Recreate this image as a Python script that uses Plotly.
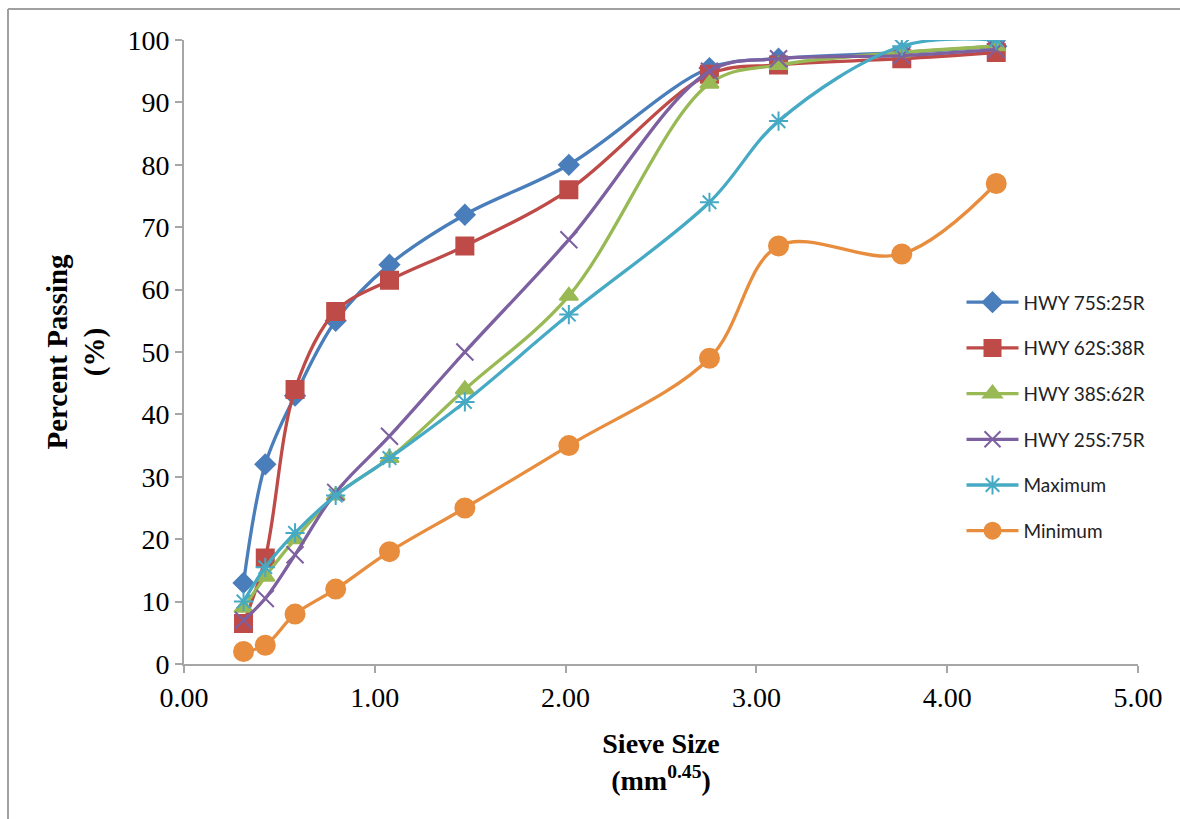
import plotly.graph_objects as go

sieve_x = [0.312, 0.426, 0.582, 0.795, 1.077, 1.472, 2.017, 2.754, 3.116, 3.762, 4.257]

series_names = ["HWY 75S:25R", "HWY 62S:38R", "HWY 38S:62R", "HWY 25S:75R", "Maximum", "Minimum"]
hwy_75s_25r = [13, 32, 43, 55, 64, 72, 80, 95.5, 97, 98, 99]
hwy_62s_38r = [6.5, 17, 44, 56.5, 61.5, 67, 76, 94.5, 96, 97, 98]
hwy_38s_62r = [9, 14, 20, 27, 33, 44, 59, 93, 96, 98, 99]
hwy_25s_75r = [7, 10.5, 17.5, 27.5, 36.5, 50, 68, 95, 97, 97.5, 98.5]
maximum = [10, 15.5, 21, 27, 33, 42, 56, 74, 87, 99, 100]
minimum = [2, 3, 8, 12, 18, 25, 35, 49, 67, 65.7, 77]

x_ticks = [0, 1, 2, 3, 4, 5]
x_tick_labels = ["0.00", "1.00", "2.00", "3.00", "4.00", "5.00"]
y_ticks = [0, 10, 20, 30, 40, 50, 60, 70, 80, 90, 100]

colors = ["#4A7EBB", "#BE4B48", "#98B954", "#7D60A0", "#46AAC5", "#E88D3E"]
markers = [
    dict(symbol="diamond", size=15),
    dict(symbol="square", size=17),
    dict(symbol="triangle-up", size=16),
    dict(symbol="x-thin-open", size=17),
    dict(symbol="asterisk-open", size=16),
    dict(symbol="circle", size=19),
]
values = [hwy_75s_25r, hwy_62s_38r, hwy_38s_62r, hwy_25s_75r, maximum, minimum]

fig = go.Figure()
for i, (name, ys) in enumerate(zip(series_names, values)):
    m = markers[i]
    fig.add_trace(go.Scatter(
        x=sieve_x, y=ys, name=name, mode="lines+markers",
        legendgroup=name,
        line=dict(color=colors[i], width=3.3, shape="spline", smoothing=1.0),
        marker=dict(symbol=m["symbol"], size=m["size"], color=colors[i],
                    line=dict(color=colors[i], width=2)),
    ))

axis_color = "#A6A6A6"
fig.update_layout(
    width=1180, height=819,
    margin=dict(l=184, r=42, t=40, b=155),
    paper_bgcolor="white", plot_bgcolor="white",
    font=dict(family="Liberation Serif", color="#000000"),
    showlegend=True,
    legend=dict(
        x=0.815, y=0.61, xanchor="left", yanchor="top",
        font=dict(family="Lato", size=19, color="#222222"),
        tracegroupgap=18, itemwidth=52, bgcolor="rgba(0,0,0,0)",
    ),
    xaxis=dict(
        range=[0, 5], tickvals=x_ticks, ticktext=x_tick_labels,
        showgrid=False, zeroline=False, showline=True, linecolor=axis_color, linewidth=2,
        ticks="outside", tickcolor=axis_color, ticklen=7, tickwidth=1.5,
        tickfont=dict(family="Liberation Serif", size=28, color="#000000"),
        title=dict(text="<b>Sieve Size</b><br><b>(mm<sup>0.45</sup>)</b>",
                   font=dict(family="Liberation Serif", size=28, color="#000000"), standoff=22),
    ),
    yaxis=dict(
        range=[0, 100], tickvals=y_ticks,
        showgrid=False, zeroline=False, showline=True, linecolor=axis_color, linewidth=2,
        ticks="outside", tickcolor=axis_color, ticklen=7, tickwidth=1.5,
        tickfont=dict(family="Liberation Serif", size=28, color="#000000"),
        title=dict(text="<b>Percent Passing</b><br><b>(%)</b>",
                   font=dict(family="Liberation Serif", size=29, color="#000000"), standoff=14),
    ),
)

# figure border (top and left edges visible)
px0 = (8 - 184) / 954
py_top = (664 - 9) / 624
fig.add_shape(type="line", xref="paper", yref="paper", x0=px0, x1=px0, y0=py_top, y1=-0.4,
              line=dict(color="#A0A0A0", width=2))
fig.add_shape(type="line", xref="paper", yref="paper", x0=px0, x1=1.2, y0=py_top, y1=py_top,
              line=dict(color="#A0A0A0", width=2))

fig.write_html("out.html")
